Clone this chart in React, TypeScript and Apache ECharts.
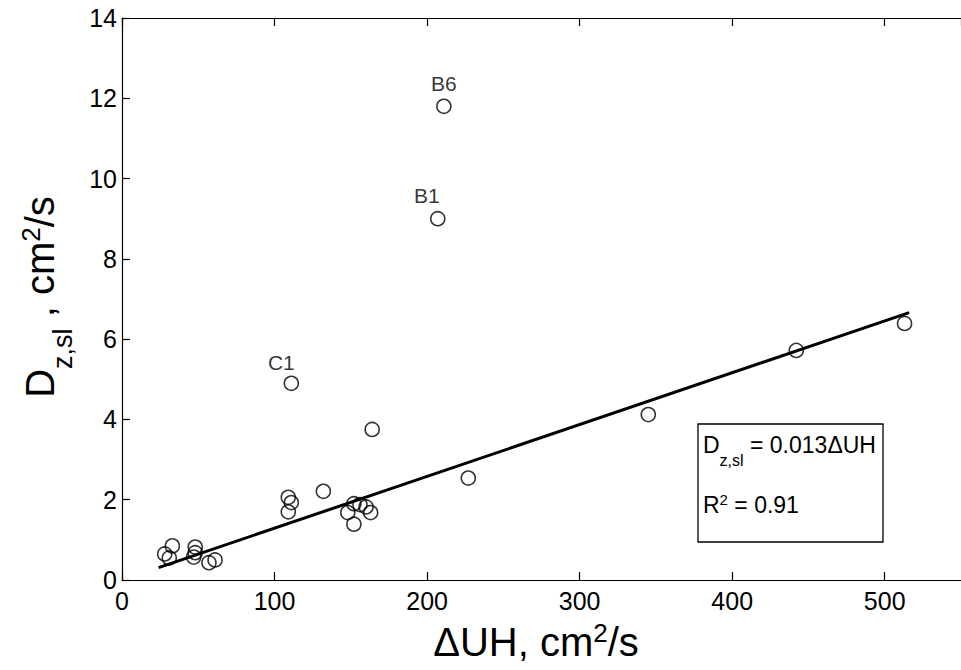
import React, { useEffect, useRef } from 'react';
import * as echarts from 'echarts';

const FONT = "'Liberation Sans', Arial, Helvetica, sans-serif";

// ΔUH (cm²/s)
const xValues = [211, 207, 111, 164, 227, 132, 109, 111, 109, 152, 156, 160, 148, 163, 152, 345, 442, 513, 28, 31, 33, 48, 48, 47, 57, 61];
// D z,sl (cm²/s)
const yValues = [11.8, 9.0, 4.9, 3.75, 2.54, 2.21, 2.06, 1.93, 1.70, 1.90, 1.88, 1.82, 1.68, 1.68, 1.39, 4.12, 5.72, 6.39, 0.65, 0.55, 0.85, 0.82, 0.68, 0.57, 0.43, 0.50];
const pointLabels = ['B6', 'B1', 'C1', '', '', '', '', '', '', '', '', '', '', '', '', '', '', '', '', '', '', '', '', '', '', ''];

// regression line endpoints (D = 0.013 ΔUH)
const fitX = [24, 516];
const fitY = [0.31, 6.66];

const xMin = 0;
const xMax = 550;
const xStep = 100;
const yMin = 0;
const yMax = 14;
const yStep = 2;

const eqLeft = 'D';
const eqSub = 'z,sl';
const eqRight = ' = 0.013ΔUH';
const r2Text = ' = 0.91';

export default function App() {
  const ref = useRef<HTMLDivElement>(null);

  useEffect(() => {
    const chart = echarts.init(ref.current!, null, { renderer: 'svg' });
    const labelOffsets: Record<string, [number, number]> = {
      B6: [0, 0],
      B1: [-11, 0],
      C1: [-10, 0],
    };
    const labelDistance: Record<string, number> = { B6: 5, B1: 5, C1: 3 };
    const scatterData = xValues.map((x, i) => {
      const name = pointLabels[i];
      const item: any = { value: [x, yValues[i]] };
      if (name) {
        item.label = {
          show: true,
          formatter: name,
          position: 'top',
          distance: labelDistance[name],
          offset: labelOffsets[name],
          color: '#000',
          fontSize: 21,
          fontFamily: FONT,
        };
      }
      return item;
    });

    const axisLineStyle = { color: '#000', width: 1.2 };
    const tick = { show: true, inside: true, length: 8, lineStyle: axisLineStyle };

    chart.setOption({
      animation: false,
      backgroundColor: '#fff',
      grid: { left: 122, top: 18, width: 846, height: 562, show: false },
      xAxis: [
        {
          type: 'value',
          position: 'bottom',
          min: xMin,
          max: xMax,
          interval: xStep,
          axisLine: { show: true, onZero: false, lineStyle: axisLineStyle },
          axisTick: tick,
          axisLabel: { color: '#000', fontSize: 25, fontFamily: FONT, margin: 8, showMaxLabel: false },
          splitLine: { show: false },
        },
        {
          type: 'value',
          position: 'top',
          min: xMin,
          max: xMax,
          interval: xStep,
          axisLine: { show: true, onZero: false, lineStyle: axisLineStyle },
          axisTick: tick,
          axisLabel: { show: false },
          splitLine: { show: false },
        },
      ],
      yAxis: [
        {
          type: 'value',
          position: 'left',
          min: yMin,
          max: yMax,
          interval: yStep,
          axisLine: { show: true, onZero: false, lineStyle: axisLineStyle },
          axisTick: tick,
          axisLabel: { color: '#000', fontSize: 25, fontFamily: FONT, margin: 5 },
          splitLine: { show: false },
        },
      ],
      series: [
        {
          type: 'line',
          data: fitX.map((x, i) => [x, fitY[i]]),
          symbol: 'none',
          showSymbol: false,
          lineStyle: { color: '#000', width: 3 },
          z: 2,
          silent: true,
        },
        {
          type: 'scatter',
          data: scatterData,
          symbol: 'circle',
          symbolSize: 14,
          itemStyle: { color: 'rgba(0,0,0,0)', borderColor: '#000', borderWidth: 1.6 },
          z: 3,
          silent: true,
        },
      ],
      graphic: [
        {
          type: 'text',
          x: 536,
          y: 642,
          z: 10,
          style: {
            text: '{m|ΔUH, cm}{p|2}{m|/s}',
            align: 'center',
            verticalAlign: 'middle',
            fill: '#000',
            rich: {
              m: { fontSize: 40, fontFamily: FONT, fill: '#000' },
              p: { fontSize: 26, fontFamily: FONT, fill: '#000', padding: [0, 0, 19, 0] },
            },
          },
        },
        {
          type: 'text',
          x: 40,
          y: 297,
          rotation: Math.PI / 2,
          z: 10,
          style: {
            text: '{m|D}{s|z,sl}{m| , cm}{p|2}{m|/s}',
            align: 'center',
            verticalAlign: 'middle',
            fill: '#000',
            rich: {
              m: { fontSize: 40, fontFamily: FONT, fill: '#000' },
              s: { fontSize: 27, fontFamily: FONT, fill: '#000', padding: [46, 0, 0, 0] },
              p: { fontSize: 26, fontFamily: FONT, fill: '#000', padding: [0, 0, 19, 0] },
            },
          },
        },
        {
          type: 'rect',
          z: 10,
          shape: { x: 698, y: 424, width: 185, height: 118 },
          style: { fill: '#fff', stroke: '#000', lineWidth: 1.3 },
        },
        {
          type: 'text',
          x: 703,
          y: 445,
          z: 11,
          style: {
            text: `{m|${eqLeft}}{s|${eqSub}}{m|${eqRight}}`,
            align: 'left',
            verticalAlign: 'middle',
            fill: '#000',
            rich: {
              m: { fontSize: 23, fontFamily: FONT, fill: '#000' },
              s: { fontSize: 16, fontFamily: FONT, fill: '#000', padding: [30, 0, 0, 0] },
            },
          },
        },
        {
          type: 'text',
          x: 703,
          y: 505,
          z: 11,
          style: {
            text: `{m|R}{p|2}{m|${r2Text}}`,
            align: 'left',
            verticalAlign: 'middle',
            fill: '#000',
            rich: {
              m: { fontSize: 23, fontFamily: FONT, fill: '#000' },
              p: { fontSize: 15, fontFamily: FONT, fill: '#000', padding: [0, 0, 12, 0] },
            },
          },
        },
      ],
    });

    return () => {
      chart.dispose();
    };
  }, []);

  return <div ref={ref} style={{ position: 'absolute', left: 0, top: 0, width: 961, height: 670 }} />;
}
